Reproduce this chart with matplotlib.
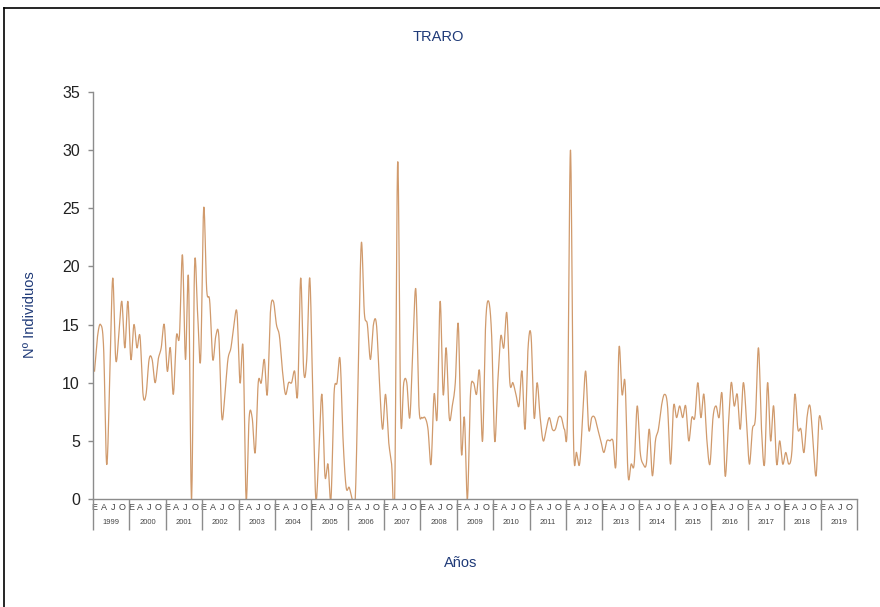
import numpy as np
import matplotlib
matplotlib.use("Agg")
import matplotlib.pyplot as plt
from matplotlib.lines import Line2D

plt.rcParams['font.family'] = ['Liberation Sans', 'DejaVu Sans']

# ---- data (monthly counts, Jan 1999 .. Jan 2019) ----
years = list(range(1999, 2020))
month_letters = ['E', 'A', 'J', 'O']
month_letter_idx = [0, 3, 6, 9]

v1999 = [11, 14, 15, 13, 3, 10, 19, 12, 14, 17, 13, 17]
v2000 = [12, 15, 13, 14, 9, 9, 12, 12, 10, 12, 13, 15]
v2001 = [11, 13, 9, 14, 14, 21, 12, 19, 0, 20, 16, 12]
v2002 = [25, 18, 17, 12, 14, 14, 7, 9, 12, 13, 15, 16]
v2003 = [10, 13, 0, 7, 7, 4, 10, 10, 12, 9, 16, 17]
v2004 = [15, 14, 11, 9, 10, 10, 11, 9, 19, 11, 12, 19]
v2005 = [9, 0, 4, 9, 2, 3, 0, 9, 10, 12, 5, 1]
v2006 = [1, 0, 0, 11, 22, 16, 15, 12, 15, 15, 10, 6]
v2007 = [9, 5, 3, 0, 29, 7, 10, 10, 7, 13, 18, 8]
v2008 = [7, 7, 6, 3, 9, 7, 17, 9, 13, 7, 8, 10]
v2009 = [15, 4, 7, 0, 9, 10, 9, 11, 5, 15, 17, 14]
v2010 = [5, 10, 14, 13, 16, 10, 10, 9, 8, 11, 6, 13]
v2011 = [14, 7, 10, 7, 5, 6, 7, 6, 6, 7, 7, 6]
v2012 = [7, 30, 5, 4, 3, 7, 11, 6, 7, 7, 6, 5]
v2013 = [4, 5, 5, 5, 3, 13, 9, 10, 2, 3, 3, 8]
v2014 = [4, 3, 3, 6, 2, 5, 6, 8, 9, 8, 3, 8]
v2015 = [7, 8, 7, 8, 5, 7, 7, 10, 7, 9, 5, 3]
v2016 = [7, 8, 7, 9, 2, 6, 10, 8, 9, 6, 10, 7]
v2017 = [3, 6, 7, 13, 6, 3, 10, 5, 8, 3, 5, 3]
v2018 = [4, 3, 4, 9, 6, 6, 4, 7, 8, 5, 2, 7]
v2019 = [6]

values = np.array(v1999 + v2000 + v2001 + v2002 + v2003 + v2004 + v2005 +
                  v2006 + v2007 + v2008 + v2009 + v2010 + v2011 + v2012 +
                  v2013 + v2014 + v2015 + v2016 + v2017 + v2018 + v2019, float)
months = np.arange(len(values), dtype=float)


def smooth_line(x, y, n=16):
    """Excel-style smoothed line (Catmull-Rom as cubic Bezier)."""
    px, py = [], []
    N = len(x)
    for i in range(N - 1):
        i0 = max(i - 1, 0)
        i3 = min(i + 2, N - 1)
        p0 = np.array([x[i0], y[i0]])
        p1 = np.array([x[i], y[i]])
        p2 = np.array([x[i + 1], y[i + 1]])
        p3 = np.array([x[i3], y[i3]])
        c1 = p1 + (p2 - p0) / 6.0
        c2 = p2 - (p3 - p1) / 6.0
        t = np.linspace(0, 1, n, endpoint=(i == N - 2))[:, None]
        pts = ((1 - t) ** 3) * p1 + 3 * ((1 - t) ** 2) * t * c1 + \
            3 * (1 - t) * (t ** 2) * c2 + (t ** 3) * p2
        px.append(pts[:, 0])
        py.append(pts[:, 1])
    return np.concatenate(px), np.concatenate(py)


W, H = 880, 607
fig = plt.figure(figsize=(W / 100, H / 100), dpi=100)
fig.patch.set_facecolor('white')

ax = fig.add_axes([93 / W, 1 - 499 / H, (857 - 93) / W, (499 - 92) / H])
sx, sy = smooth_line(months, values)
ax.plot(sx, sy, color='#D09A6C', lw=0.9, solid_joinstyle='round')

n_years = len(years)
ax.set_xlim(-0.5, n_years * 12 - 0.5)
ax.set_ylim(0, 35)
ax.set_yticks(np.arange(0, 36, 5))

axis_gray = '#8C8C8C'
for s in ['top', 'right']:
    ax.spines[s].set_visible(False)
for s in ['left', 'bottom']:
    ax.spines[s].set_color(axis_gray)
    ax.spines[s].set_linewidth(1.0)

ax.tick_params(axis='y', direction='out', length=3.5, width=1, color=axis_gray,
               labelsize=11.5, labelcolor='#222222', pad=6)

# month letters
mpos, mlab = [], []
for k in range(n_years):
    for idx, lab in zip(month_letter_idx, month_letters):
        mpos.append(k * 12 + idx)
        mlab.append(lab)
ax.set_xticks(mpos)
ax.set_xticklabels(mlab)
ax.tick_params(axis='x', which='major', length=0, labelsize=6.5,
               labelcolor='#444444', pad=3)

# year separators
ax.set_xticks([k * 12 - 0.5 for k in range(n_years + 1)], minor=True)
ax.tick_params(axis='x', which='minor', length=22.5, width=1, color=axis_gray,
               direction='out')

# year labels
sec = ax.secondary_xaxis('bottom')
sec.set_xticks([k * 12 + 5.5 for k in range(n_years)])
sec.set_xticklabels([str(y) for y in years])
sec.tick_params(axis='x', length=0, labelsize=5.5, labelcolor='#444444', pad=14.5)
sec.spines['bottom'].set_visible(False)

blue = '#1F3A78'
fig.text(438 / W, 1 - 37 / H, 'TRARO', color=blue, fontsize=10.5,
         ha='center', va='center')
fig.text(30 / W, 1 - 315 / H, 'Nº Individuos', color=blue, fontsize=10.5,
         ha='center', va='center', rotation=90)
fig.text(461 / W, 1 - 563 / H, 'Años', color=blue, fontsize=10.5,
         ha='center', va='center')

# outer frame
fig.add_artist(Line2D([4 / W, 1.0], [1 - 8 / H, 1 - 8 / H], color='black',
                      lw=1.2, transform=fig.transFigure))
fig.add_artist(Line2D([4 / W, 4 / W], [0, 1 - 8 / H], color='black',
                      lw=1.2, transform=fig.transFigure))

fig.savefig('out.png', dpi=100, facecolor='white')
